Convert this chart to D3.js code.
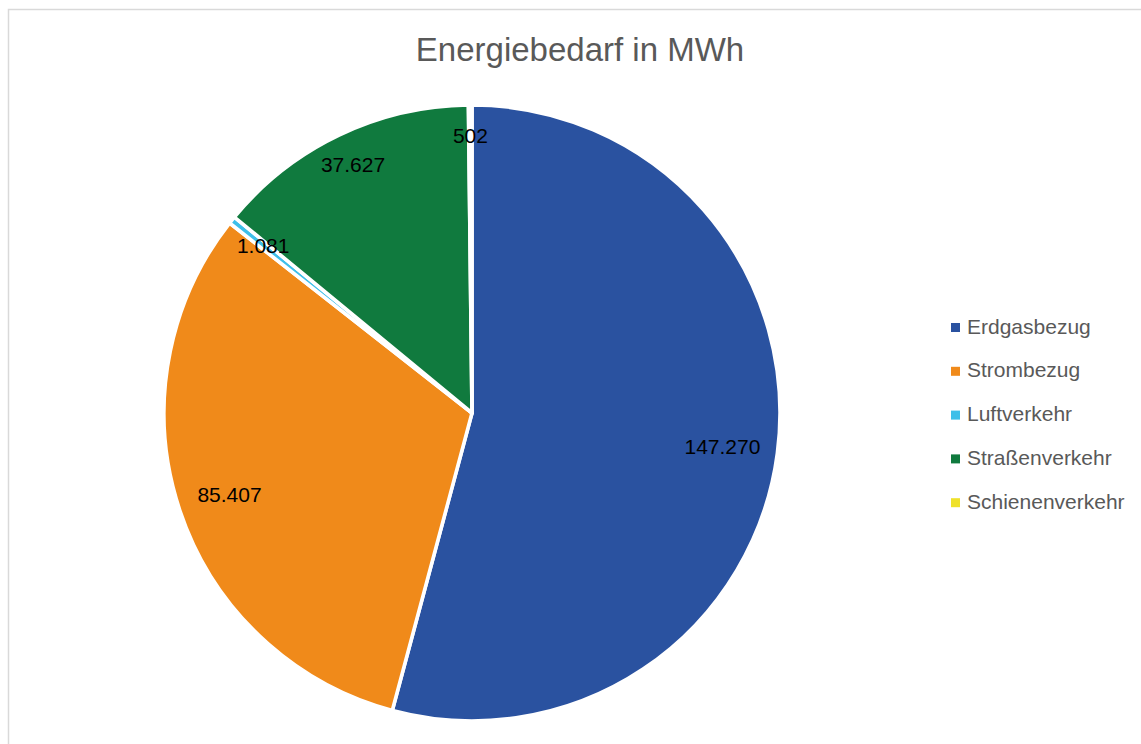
<!DOCTYPE html>
<html>
<head>
<meta charset="utf-8">
<script src="https://cdn.jsdelivr.net/npm/d3@7"></script>
<style>
  html, body { margin: 0; padding: 0; background: #ffffff; }
  svg { display: block; }
  text { font-family: "Liberation Sans", Arial, sans-serif; }
</style>
</head>
<body>
<svg id="chart" width="1141" height="744"></svg>
<script>
// Energy demand by source, MWh
const categories = ["Erdgasbezug", "Strombezug", "Luftverkehr", "Straßenverkehr", "Schienenverkehr"];
const values = [147270, 85407, 1081, 37627, 502];
const valueLabels = ["147.270", "85.407", "1.081", "37.627", "502"];
const colors = ["#2a52a0", "#f08a1a", "#3ebfe9", "#107a3e", "#efe12a"];
const title = "Energiebedarf in MWh";

const W = 1141, H = 744;
const cx = 472, cy = 413, R = 308;

// label distance from the centre, as a share of the radius, per slice
const labelRadius = {
  "Erdgasbezug": 0.82,
  "Strombezug": 0.83,
  "Luftverkehr": 0.87,
  "Straßenverkehr": 0.895,
  "Schienenverkehr": 0.90
};

const svg = d3.select("#chart");

// chart frame
svg.append("rect")
  .attr("x", 8.5).attr("y", 9.5)
  .attr("width", W + 20).attr("height", H + 20)
  .attr("fill", "#ffffff")
  .attr("stroke", "#d9d9d9")
  .attr("stroke-width", 1.5);

svg.append("text")
  .attr("x", 580).attr("y", 61)
  .attr("text-anchor", "middle")
  .attr("font-size", 33)
  .attr("fill", "#595959")
  .text(title);

const color = d3.scaleOrdinal().domain(categories).range(colors);

const data = categories.map((c, i) => ({ name: c, value: values[i], label: valueLabels[i] }));

const pie = d3.pie().sort(null).value(d => d.value);
const arcs = pie(data);
const arc = d3.arc().innerRadius(0).outerRadius(R);

const g = svg.append("g").attr("transform", `translate(${cx},${cy})`);

g.selectAll("path.slice")
  .data(arcs)
  .join("path")
  .attr("class", "slice")
  .attr("d", arc)
  .attr("fill", d => color(d.data.name))
  .attr("stroke", "#ffffff")
  .attr("stroke-width", 3.6)
  .attr("stroke-linejoin", "round");

g.selectAll("text.value")
  .data(arcs)
  .join("text")
  .attr("class", "value")
  .attr("transform", d => {
    const r = R * labelRadius[d.data.name];
    const c = d3.arc().innerRadius(r).outerRadius(r).centroid(d);
    return `translate(${c[0]},${c[1]})`;
  })
  .attr("text-anchor", "middle")
  .attr("dy", "0.36em")
  .attr("font-size", 21)
  .attr("fill", "#000000")
  .text(d => d.data.label);

// legend
const legend = svg.append("g").attr("transform", "translate(951,323)");
const rowStep = 43.8;
const items = legend.selectAll("g.item")
  .data(categories)
  .join("g")
  .attr("class", "item")
  .attr("transform", (d, i) => `translate(0,${i * rowStep})`);

items.append("rect")
  .attr("width", 9).attr("height", 9)
  .attr("fill", d => color(d));

items.append("text")
  .attr("x", 16).attr("y", 10.5)
  .attr("font-size", 21)
  .attr("fill", "#595959")
  .text(d => d);
</script>
</body>
</html>
